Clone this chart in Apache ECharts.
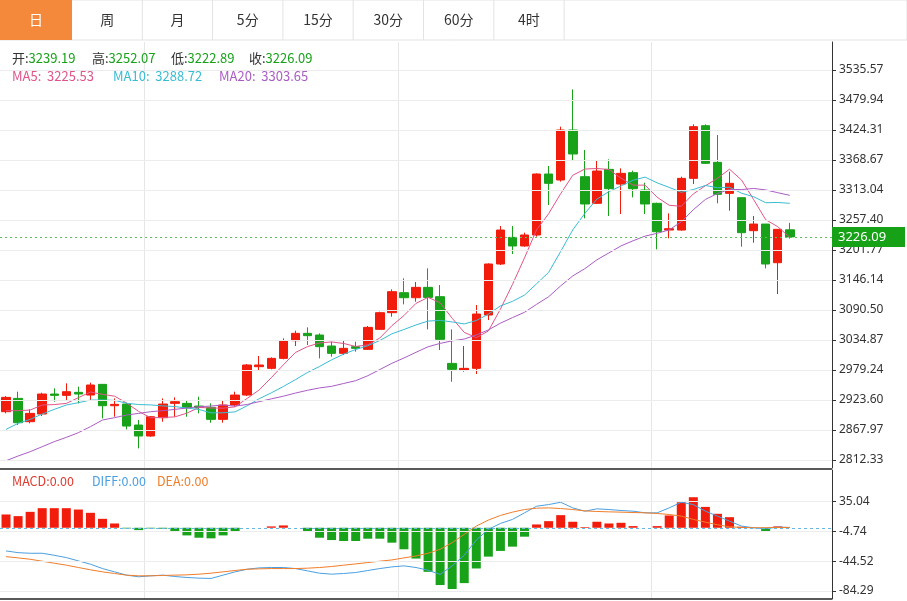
<!DOCTYPE html>
<html><head><meta charset="utf-8">
<script src="https://cdn.jsdelivr.net/npm/echarts@6/dist/echarts.min.js"></script>
<style>html,body{margin:0;padding:0;background:#fff}#c{width:907px;height:601px}</style>
</head><body><div id="c"></div>
<script>
const tabs = ['日','周','月','5分','15分','30分','60分','4时'];
const opens = [2901.9,2926.6,2883.4,2897.6,2934.7,2932.2,2937.8,2932.8,2952.6,2913.0,2916.1,2877.2,2856.8,2890.8,2917.4,2917.4,2912.4,2909.9,2887.7,2914.3,2932.8,2985.4,2982.3,3000.8,3033.6,3047.2,3044.1,3023.7,3010.1,3022.5,3017.5,3054.6,3085.5,3122.6,3113.3,3132.5,3115.2,2991.5,2979.2,2982.3,3081.2,3175.8,3225.2,3209.2,3229.6,3342.7,3331.6,3424.3,3337.7,3288.3,3351.3,3324.1,3345.2,3313.0,3288.3,3238.8,3238.8,3334.6,3432.3,3364.3,3306.8,3298.8,3237.6,3249.9,3178.2,3239.19];
const closes = [2928.5,2881.5,2898.8,2934.7,2932.2,2939.0,2934.7,2951.4,2913.0,2915.5,2875.3,2856.8,2892.6,2916.1,2920.5,2909.9,2909.9,2887.7,2914.3,2932.8,2988.5,2988.5,3000.8,3033.6,3047.2,3042.9,3022.5,3010.1,3019.4,3019.4,3058.3,3085.5,3124.5,3113.3,3132.5,3113.9,3036.1,2980.4,2982.3,3083.0,3175.8,3238.8,3209.2,3229.6,3342.7,3325.4,3424.3,3379.8,3287.1,3348.2,3315.5,3343.9,3315.5,3287.1,3235.7,3241.3,3334.6,3430.5,3362.5,3305.0,3325.4,3233.9,3249.9,3175.8,3240.1,3226.09];
const lows = [2898.8,2877.2,2880.3,2893.9,2920.5,2923.6,2917.4,2922.3,2889.5,2892.6,2869.1,2833.9,2855.5,2883.4,2892.6,2892.6,2898.8,2881.5,2881.5,2911.2,2930.9,2979.2,2980.4,2999.0,3023.7,3025.6,3000.8,3003.9,3007.0,3013.2,3016.3,3053.4,3078.1,3101.0,3105.9,3054.6,3016.3,2957.5,2976.1,2971.8,3071.9,3173.9,3194.3,3207.9,3226.5,3285.2,3328.5,3367.4,3260.5,3287.1,3264.8,3268.5,3299.4,3268.5,3203.0,3223.4,3237.6,3324.1,3361.2,3288.3,3274.7,3207.9,3215.3,3167.7,3120.1,3222.89];
const highs = [2930.9,2939.0,2906.2,2937.1,2945.2,2954.5,2948.3,2955.7,2952.6,2926.6,2918.6,2886.5,2893.9,2926.6,2928.5,2923.6,2929.7,2917.4,2922.3,2939.0,2990.3,3005.1,3002.7,3037.9,3052.1,3058.3,3047.2,3031.7,3034.8,3031.7,3060.8,3087.4,3128.8,3149.2,3142.4,3167.7,3136.8,3054.6,3023.7,3099.7,3177.0,3246.2,3246.2,3233.9,3343.9,3357.5,3430.5,3499.7,3387.2,3367.4,3369.9,3353.2,3348.9,3326.6,3289.5,3269.7,3337.7,3434.8,3434.8,3415.0,3347.0,3298.8,3264.8,3249.9,3240.1,3252.07];
// MA values before enough history
const ma5Head = [2903.8,2903.8,2905.0,2914.3];
const ma10Head = [2869.1,2880.3,2887.7,2897.6,2906.2,2914.3,2918.6,2923.6,2923.6];
const ma20Head = [2811.0,2819.7,2827.7,2837.0,2846.3,2854.3,2863.0,2874.1,2886.5,2890.8,2895.7,2898.8,2901.9,2903.8,2906.2,2908.7,2911.2,2912.4,2914.3];
const macdHist = [17.7,15.5,21.2,26.1,26.1,26.1,24.3,19.9,11.9,5.7,-0.9,-3.1,-0.9,-1.3,-5.7,-10.2,-13.3,-14.1,-10.2,-5.7,0,0,1.8,3.1,0,-4.4,-13.3,-16.4,-17.7,-17.7,-14.6,-14.6,-19.9,-28.7,-41.1,-58.8,-76.4,-81.7,-73.8,-54.3,-38.5,-30.9,-25.2,-11.9,4.4,8.8,16.8,8.0,0.9,8.0,5.7,6.6,2.2,0,2.2,16.4,34.0,40.7,27.8,18.6,14.1,1.3,0,-4.4,1.8,0];
const diff = [-30.9,-33.2,-34.0,-34.0,-36.7,-39.8,-44.2,-48.6,-54.4,-58.8,-63.2,-65.4,-64.1,-63.2,-65.0,-66.3,-67.2,-67.6,-63.2,-58.8,-55.3,-53.5,-53.0,-53.0,-54.4,-57.5,-60.6,-61.9,-61.0,-59.7,-57.0,-54.4,-52.2,-50.8,-53.0,-56.6,-62.3,-50.8,-36.7,-16.4,-2.2,5.7,11.1,19.9,28.7,30.9,34.0,26.5,22.1,25.2,24.3,23.0,22.1,19.9,19.9,26.5,34.0,30.9,22.1,15.5,8.8,2.2,0,-1.3,0.9,0.4];
const dea = [-38.5,-40.2,-42.0,-44.6,-47.3,-49.9,-53.0,-56.1,-58.8,-61.0,-63.2,-64.1,-64.1,-63.6,-63.2,-62.8,-61.9,-60.6,-58.8,-57.0,-55.3,-54.8,-54.4,-54.4,-54.4,-53.9,-53.0,-51.7,-49.9,-48.2,-46.4,-44.6,-42.9,-40.2,-37.6,-34.0,-28.7,-19.9,-8.8,2.2,10.2,16.4,20.8,24.3,26.1,26.5,25.6,24.3,22.5,21.7,21.2,20.8,20.3,19.9,19.0,17.7,15.5,11.1,7.5,4.0,1.3,0.4,0,0,0.4,0.4];
const priceTicks = [2812.33,2867.97,2923.60,2979.24,3034.87,3090.50,3146.14,3201.77,3257.40,3313.04,3368.67,3424.31,3479.94,3535.57];
const macdTicks = [-84.29,-44.52,-4.74,35.04];
const lastPrice = 3226.09;

const N = opens.length, PAD = 3;
const categories = [];
for (let i = 0; i < N + PAD; i++) categories.push(String(i + 1));
function ma(n, head) {
  const out = [];
  for (let i = 0; i < N; i++) {
    if (i < n - 1) { out.push(head[i]); continue; }
    let s = 0; for (let j = i - n + 1; j <= i; j++) s += closes[j];
    out.push(+(s / n).toFixed(2));
  }
  return out;
}
const kdata = opens.map((o, i) => [o, closes[i], lows[i], highs[i]]);
const RED = '#f21c0c', GREEN = '#18a21a';
const vlines = [12, 33, 54];

const chart = echarts.init(document.getElementById('c'));
const tabGraphics = [];
tabGraphics.push({type:'rect', shape:{x:0,y:0,width:907,height:40}, style:{fill:'#fff', stroke:'#e3e3e3'}, z:10});
tabGraphics.push({type:'rect', shape:{x:0,y:0,width:72,height:40}, style:{fill:'#f5893b'}, z:11});
const tabW = 70.3;
tabs.forEach((t, i) => {
  const cx = i === 0 ? 36 : 72 + tabW * (i - 1) + tabW / 2;
  tabGraphics.push({type:'text', x:cx, y:20, style:{text:t, fill:i===0?'#fff':'#333', font:'14px "Microsoft YaHei","Noto Sans CJK SC",sans-serif', align:'center', verticalAlign:'middle'}, z:12});
  if (i > 0) tabGraphics.push({type:'line', shape:{x1:72+tabW*i, y1:0, x2:72+tabW*i, y2:40}, style:{stroke:'#e3e3e3'}, z:12});
});
const F = '13px "Noto Sans CJK SC",sans-serif';
function rich(x, y, parts) {
  return {type:'text', x:x, y:y, style:{text:parts.map(p=>'{'+p[1]+'|'+p[0]+'}').join(''), rich:{
    k:{fill:'#333', font:F}, g:{fill:GREEN, font:F}, p:{fill:'#e0548a', font:F}, c:{fill:'#39bcd2', font:F}, m:{fill:'#aa5cc4', font:F},
    r:{fill:'#e03a2e', font:'12.5px "Noto Sans CJK SC",sans-serif'}, b:{fill:'#4a9fe0', font:'12.5px "Noto Sans CJK SC",sans-serif'}, o:{fill:'#f07d2a', font:'12.5px "Noto Sans CJK SC",sans-serif'}}, verticalAlign:'middle'}, z:20};
}
const g = tabGraphics.concat([
  rich(12, 58, [['开:','k'],['3239.19','g']]),
  rich(92, 58, [['高:','k'],['3252.07','g']]),
  rich(171, 58, [['低:','k'],['3222.89','g']]),
  rich(249, 58, [['收:','k'],['3226.09','g']]),
  rich(12, 76, [['MA5:  3225.53','p']]),
  rich(113, 76, [['MA10:  3288.72','c']]),
  rich(219, 76, [['MA20:  3303.65','m']]),
  rich(12, 481, [['MACD:0.00','r']]),
  rich(92, 481, [['DIFF:0.00','b']]),
  rich(157, 481, [['DEA:0.00','o']]),
  {type:'line', shape:{x1:0,y1:469,x2:832,y2:469}, style:{stroke:'#222', lineWidth:1.5}, z:20},
  {type:'line', shape:{x1:0,y1:599,x2:832,y2:599}, style:{stroke:'#222', lineWidth:1.5}, z:20}
]);

const axisCommon = {type:'category', data:categories, boundaryGap:true, axisLine:{show:false}, axisTick:{show:false}, axisLabel:{show:false},
  splitLine:{show:true, interval:(i)=>vlines.includes(i), lineStyle:{color:'#e6e6e6'}}};

chart.setOption({
  animation:false,
  graphic:g,
  grid:[{left:0, right:75, top:42, height:426}, {left:0, right:75, top:470, height:129}],
  xAxis:[Object.assign({gridIndex:0}, axisCommon), Object.assign({gridIndex:1}, axisCommon)],
  yAxis:[
    {gridIndex:0, position:'right', min:2797.5, max:3587.5, scale:true,
     axisLine:{show:true, lineStyle:{color:'#333'}}, axisTick:{show:true, length:4, customValues:priceTicks, lineStyle:{color:'#333'}},
     axisLabel:{customValues:priceTicks, formatter:v=>v.toFixed(2), color:'#333', fontSize:12, margin:7, fontFamily:'Noto Sans'},
     splitLine:{show:false}},
    {gridIndex:1, position:'right', min:-95, max:77,
     axisLine:{show:true, lineStyle:{color:'#333'}}, axisTick:{show:true, length:4, customValues:macdTicks, lineStyle:{color:'#333'}},
     axisLabel:{customValues:macdTicks, formatter:v=>v.toFixed(2), color:'#333', fontSize:12, margin:7, fontFamily:'Noto Sans'},
     splitLine:{show:false}}
  ],
  series:[
    {type:'candlestick', data:kdata, barWidth:9, xAxisIndex:0, yAxisIndex:0,
     itemStyle:{color:RED, color0:GREEN, borderColor:RED, borderColor0:GREEN, borderWidth:1},
     markLine:{silent:true, symbol:'none', label:{show:false},
       data:priceTicks.map(v=>({yAxis:v, lineStyle:{color:'#ececec', type:'solid', width:1}})).concat([
         {yAxis:lastPrice, lineStyle:{color:'#5cc05c', type:[2,3], width:1}}])}},
    {type:'line', data:ma(5, ma5Head), xAxisIndex:0, yAxisIndex:0, symbol:'none', lineStyle:{color:'#e0548a', width:1}, itemStyle:{color:'#e0548a'}},
    {type:'line', data:ma(10, ma10Head), xAxisIndex:0, yAxisIndex:0, symbol:'none', lineStyle:{color:'#39bcd2', width:1}, itemStyle:{color:'#39bcd2'}},
    {type:'line', data:ma(20, ma20Head), xAxisIndex:0, yAxisIndex:0, symbol:'none', lineStyle:{color:'#aa5cc4', width:1}, itemStyle:{color:'#aa5cc4'}},
    {type:'bar', data:macdHist.map(v=>({value:v, itemStyle:{color:v>=0?RED:GREEN}})), xAxisIndex:1, yAxisIndex:1, barWidth:9,
     markLine:{silent:true, symbol:'none', label:{show:false},
       data:macdTicks.map(v=>({yAxis:v, lineStyle:{color:'#ececec', type:'solid', width:1}})).concat([
         {yAxis:0, lineStyle:{color:'#66b8e0', type:[3,3], width:1}}])}},
    {type:'line', data:diff, xAxisIndex:1, yAxisIndex:1, symbol:'none', lineStyle:{color:'#4a9fe0', width:1}},
    {type:'line', data:dea, xAxisIndex:1, yAxisIndex:1, symbol:'none', lineStyle:{color:'#f07d2a', width:1}}
  ]
});
// current price tag
const py = chart.convertToPixel({yAxisIndex:0}, lastPrice);
chart.setOption({graphic: g.concat([
  {type:'rect', shape:{x:832, y:py-10, width:73, height:20}, style:{fill:'#17a117'}, z:30},
  {type:'text', x:838, y:py, style:{text:lastPrice.toFixed(2), fill:'#fff', font:'13px "Noto Sans",sans-serif', verticalAlign:'middle'}, z:31}
])});
</script></body></html>
